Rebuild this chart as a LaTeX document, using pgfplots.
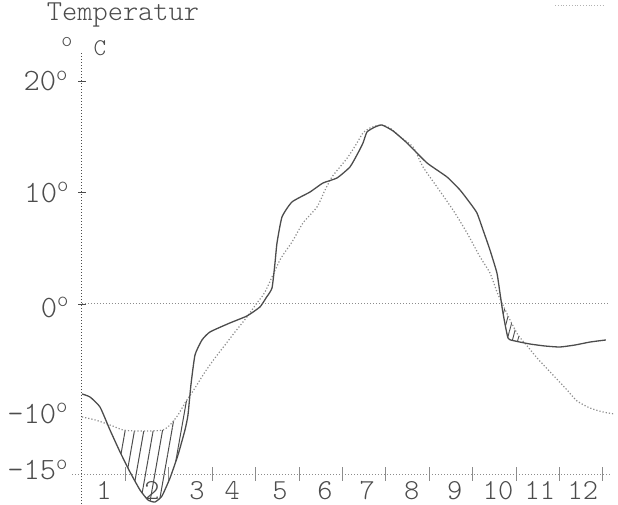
\documentclass[border=0pt]{standalone}
\usepackage{pgfplots}
\pgfplotsset{compat=1.18}
\usepgfplotslibrary{fillbetween}
\usetikzlibrary{patterns.meta}

\definecolor{inkdark}{gray}{0.30}
\definecolor{inklight}{gray}{0.55}

\begin{document}
\begin{tikzpicture}
\begin{axis}[
  x=21.7pt, y=5.575pt,
  xmin=-1.889, xmax=12.35, ymin=-17.94, ymax=27.26,
  hide axis, clip=false,
  font=\fontseries{l}\ttfamily,
]
% bounding frame of the sheet
\path[draw=none] (axis cs:-1.889,-17.94) rectangle (axis cs:12.35,27.26);

% axes
\addplot[inkdark, line width=0.5pt, densely dotted] coordinates {(0,-17.94) (0,22.6)};
\addplot[inklight, line width=0.5pt, densely dotted] coordinates {(-0.23,-15.25) (12.21,-15.25)};
\addplot[inklight, line width=0.5pt, densely dotted] coordinates {(0,0) (12.12,0)};
\pgfplotsinvokeforeach{1,...,12}{
  \draw[inklight, line width=0.4pt] (axis cs:#1,-15.85) -- (axis cs:#1,-14.6);
}
\pgfplotsinvokeforeach{0,10,20}{
  \draw[inkdark, line width=0.4pt] (axis cs:-0.09,#1) -- (axis cs:0.09,#1);
}

% long-term mean
\addplot[name path=mean, inklight, line width=0.6pt, densely dotted, smooth, tension=0.4] coordinates {
(0,-10.13) (0.30,-10.40) (0.645,-10.85) (0.945,-11.30) (1.221,-11.39)
(1.567,-11.39) (1.866,-11.30) (2.028,-10.85) (2.212,-9.96) (2.373,-8.88)
(2.604,-7.53) (2.834,-6.10) (3.065,-4.84) (3.295,-3.68) (3.525,-2.51)
(3.80,-1.17) (4.03,0.09) (4.217,1.08) (4.562,3.95) (4.839,5.56)
(5.092,7.26) (5.415,8.70) (5.60,10.22) (5.76,11.39) (5.945,12.29)
(6.129,13.18) (6.336,14.44) (6.475,15.34) (6.636,15.78) (6.866,16.05)
(7.097,15.78) (7.327,14.98) (7.627,14.08) (7.857,12.29) (8.18,10.49)
(8.548,8.43) (8.871,6.37) (9.171,4.22) (9.40,2.78) (9.562,1.08)
(9.677,0.09) (9.862,-1.43) (10.046,-2.78) (10.277,-3.86) (10.484,-4.84)
(10.83,-6.28) (11.175,-7.71) (11.405,-8.70) (11.705,-9.33) (12.005,-9.69)
(12.28,-9.87)
};

% observed year
\addplot[name path=year, inkdark, line width=0.65pt, smooth, tension=0.3] coordinates {
(0,-8.07) (0.184,-8.34) (0.415,-9.24) (0.645,-11.30) (0.876,-13.27)
(1.106,-15.07) (1.336,-16.68) (1.521,-17.58) (1.682,-17.76) (1.843,-17.22)
(2.028,-15.61) (2.212,-13.54) (2.373,-11.30) (2.442,-9.96) (2.51,-7.26)
(2.604,-4.57) (2.765,-3.23) (2.949,-2.51) (3.41,-1.70) (3.80,-1.08)
(4.10,-0.27) (4.24,0.54) (4.378,1.43) (4.447,3.68) (4.493,5.47)
(4.608,7.80) (4.839,9.15) (5.253,10.04) (5.553,10.85) (5.876,11.30)
(6.175,12.29) (6.359,13.54) (6.475,14.44) (6.567,15.43) (6.751,15.87)
(6.912,16.05) (7.166,15.52) (7.488,14.44) (7.949,12.65) (8.41,11.39)
(8.71,10.22) (8.94,9.06) (9.10,8.16) (9.24,6.64) (9.40,4.84)
(9.56,2.78) (9.63,0.99) (9.70,-0.81) (9.816,-3.05) (9.977,-3.32)
(10.32,-3.59) (10.67,-3.77) (11.01,-3.86) (11.36,-3.68) (11.71,-3.41)
(12.07,-3.23)
};

% colder than the mean: hatched
\addplot[draw=none, pattern={Lines[angle=80, distance=4.6pt, line width=0.5pt]}, pattern color=inkdark]
  fill between[of=mean and year, soft clip={domain=0.88:2.50}];
\addplot[draw=none, pattern={Lines[angle=75, distance=2.6pt, line width=0.45pt]}, pattern color=inkdark]
  fill between[of=mean and year, soft clip={domain=9.66:10.08}];

% y tick labels
\node[anchor=east, inner sep=0pt, font=\fontsize{15.5}{17}\fontseries{l}\ttfamily, inkdark] at (axis cs:-0.30,20) {20\textsuperscript{o}};
\node[anchor=east, inner sep=0pt, font=\fontsize{15.5}{17}\fontseries{l}\ttfamily, inkdark] at (axis cs:-0.28,10) {10\textsuperscript{o}};
\node[anchor=east, inner sep=0pt, font=\fontsize{15.5}{17}\fontseries{l}\ttfamily, inkdark] at (axis cs:-0.28,-0.3) {0\textsuperscript{o}};
\node[anchor=east, inner sep=0pt, font=\fontsize{15.5}{17}\fontseries{l}\ttfamily, inkdark] at (axis cs:-0.30,-9.8) {-10\textsuperscript{o}};
\node[anchor=east, inner sep=0pt, font=\fontsize{15.5}{17}\fontseries{l}\ttfamily, inkdark] at (axis cs:-0.30,-14.9) {-15\textsuperscript{o}};

% month labels
\pgfplotsforeachungrouped \pos/\lab in {0.507/1,1.613/2,2.65/3,3.46/4,4.56/5,5.60/6,6.57/7,7.60/8,8.59/9,9.585/10,10.55/11,11.54/12}{
  \edef\tmp{\noexpand\node[inner sep=0pt, font=\noexpand\fontsize{14.5}{16}\noexpand\fontseries{l}\noexpand\ttfamily, inkdark] at (axis cs:\pos,-16.75) {\lab};}
  \tmp
}

% axis title
\node[inner sep=0pt, font=\fontsize{14.5}{16}\fontseries{l}\ttfamily, inkdark] at (axis cs:0.945,25.95) {Temperatur};
\node[inner sep=0pt, font=\fontsize{10.5}{12}\fontseries{l}\ttfamily, inkdark] at (axis cs:-0.35,23.45) {o};
\node[inner sep=0pt, font=\fontsize{12}{14}\fontseries{l}\ttfamily, inkdark] at (axis cs:0.415,22.9) {C};

\draw[gray!60, line width=0.4pt, densely dotted] (axis cs:10.9,26.8) -- (axis cs:12.0,26.8);
\end{axis}
\end{tikzpicture}
\end{document}
